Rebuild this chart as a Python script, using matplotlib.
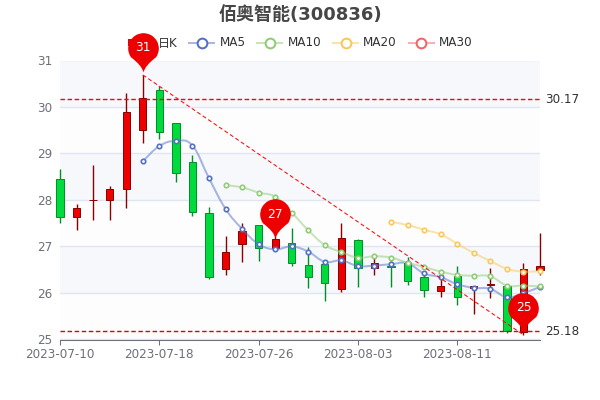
import numpy as np
import matplotlib
matplotlib.use('Agg')
import matplotlib.pyplot as plt
from matplotlib.lines import Line2D
from matplotlib.patches import Patch, PathPatch
from matplotlib.path import Path

plt.rcParams['font.family'] = ['DejaVu Sans', 'Noto Sans CJK SC']

dates = ['2023-07-10', '2023-07-11', '2023-07-12', '2023-07-13', '2023-07-14',
         '2023-07-17', '2023-07-18', '2023-07-19', '2023-07-20', '2023-07-21',
         '2023-07-24', '2023-07-25', '2023-07-26', '2023-07-27', '2023-07-28',
         '2023-07-31', '2023-08-01', '2023-08-02', '2023-08-03', '2023-08-04',
         '2023-08-07', '2023-08-08', '2023-08-09', '2023-08-10', '2023-08-11',
         '2023-08-14', '2023-08-15', '2023-08-16', '2023-08-17', '2023-08-18']

open_p = [28.45, 27.64, 27.99, 28.00, 28.24, 29.50, 30.37, 29.65, 28.81, 27.73,
          26.51, 27.05, 27.46, 26.96, 27.07, 26.61, 26.62, 26.09, 27.14, 26.53,
          26.59, 26.64, 26.34, 26.05, 26.37, 26.11, 26.17, 26.16, 25.17, 26.50]
close_p = [27.63, 27.83, 28.00, 28.24, 29.89, 30.19, 29.46, 28.57, 27.75, 26.35,
           26.89, 27.34, 26.96, 27.16, 26.64, 26.35, 26.22, 27.18, 26.54, 26.64,
           26.56, 26.26, 26.06, 26.16, 25.91, 26.14, 26.19, 25.18, 26.51, 26.58]
low_p = [27.50, 27.35, 27.57, 27.58, 27.82, 29.22, 29.31, 28.39, 27.66, 26.31,
         26.39, 26.67, 26.69, 26.96, 26.59, 26.10, 25.83, 26.03, 26.13, 26.38,
         26.13, 26.18, 25.91, 25.91, 25.75, 25.55, 25.89, 25.14, 25.10, 26.39]
high_p = [28.67, 27.91, 28.75, 28.30, 30.31, 30.69, 30.45, 29.65, 28.97, 27.86,
          27.23, 27.50, 27.46, 27.30, 27.39, 26.98, 26.70, 27.50, 27.16, 26.75,
          26.70, 26.77, 26.45, 26.30, 26.58, 26.16, 26.54, 26.16, 26.64, 27.28]

nan = float('nan')
ma5 = [nan] * 5 + [28.83, 29.16, 29.27, 29.17, 28.47, 27.81, 27.38, 27.05, 26.94,
                   27.00, 26.89, 26.67, 26.70, 26.58, 26.59, 26.62, 26.64, 26.42,
                   26.34, 26.19, 26.11, 26.09, 25.91, 26.00, 26.13]
ma10 = [nan] * 10 + [28.32, 28.27, 28.16, 28.07, 27.73, 27.35, 27.03, 26.88, 26.76,
                     26.79, 26.76, 26.65, 26.56, 26.46, 26.39, 26.37, 26.36, 26.16,
                     26.16, 26.14]
ma20 = [nan] * 20 + [27.53, 27.46, 27.36, 27.26, 27.06, 26.86, 26.69, 26.52, 26.46, 26.47]

pin_idx = [5, 13, 28]
pin_val = [30.76, 27.18, 25.17]
pin_txt = ['31', '27', '25']

line_hi = 30.17
line_lo = 25.18
trend_idx = [5, 28]
trend_val = [30.69, 25.10]

UP = '#ec0000'
UP_EDGE = '#8a0000'
DOWN = '#00da3c'
DOWN_EDGE = '#008f28'
AXIS_TXT = '#6e7079'


def smooth_path(ys):
    # 曲线只用于画线，不增加数据点
    pts = [(i, v) for i, v in enumerate(ys) if not np.isnan(v)]
    verts = [pts[0]]
    codes = [Path.MOVETO]
    for k in range(len(pts) - 1):
        p0 = pts[max(k - 1, 0)]
        p1 = pts[k]
        p2 = pts[k + 1]
        p3 = pts[min(k + 2, len(pts) - 1)]
        verts.append((p1[0] + (p2[0] - p0[0]) * 0.2, p1[1] + (p2[1] - p0[1]) * 0.2))
        verts.append((p2[0] - (p3[0] - p1[0]) * 0.2, p2[1] - (p3[1] - p1[1]) * 0.2))
        verts.append(p2)
        codes += [Path.CURVE4] * 3
    return Path(verts, codes)


def pin_marker(r=15.3, cy=24.0):
    # 笔尖在原点
    arc = Path.arc(-35, 215)
    body = arc.vertices[1:] * r + [0, cy]
    start = arc.vertices[0] * r + [0, cy]
    verts = [(0, 0), (1.5, 7), start]
    codes = [Path.MOVETO, Path.CURVE3, Path.CURVE3]
    verts += [tuple(v) for v in body]
    codes += list(arc.codes[1:])
    verts += [(-1.5, 7), (0, 0), (0, 0)]
    codes += [Path.CURVE3, Path.CURVE3, Path.CLOSEPOLY]
    return Path(verts, codes)


fig = plt.figure(figsize=(6, 4), dpi=100)
ax = fig.add_axes([60 / 600, 60.5 / 400, 480 / 600, 279 / 400])
ax.set_xlim(0, 29)
ax.set_ylim(25, 31)

# 背景条纹
for lo in range(25, 31):
    ax.axhspan(lo, lo + 1, color='#f6f8fc' if lo % 2 == 0 else '#fdfdfd', lw=0, zorder=0)
ax.set_yticks(range(25, 32))
ax.grid(axis='y', color='#e0e6f1', lw=1, zorder=1)
ax.set_axisbelow(True)

x = np.arange(len(dates))
for i in x:
    up = close_p[i] >= open_p[i]
    edge = UP_EDGE if up else DOWN_EDGE
    face = UP if up else DOWN
    ax.vlines(i, low_p[i], high_p[i], color=edge, lw=1, zorder=2, clip_on=False)
    ax.bar(i, abs(close_p[i] - open_p[i]), 0.44, bottom=min(open_p[i], close_p[i]),
           color=face, edgecolor=edge, lw=0.7, zorder=3, clip_on=False)

series = [('MA5', ma5, '#5470c6'), ('MA10', ma10, '#91cc75'), ('MA20', ma20, '#fac858')]
for name, vals, col in series:
    ax.add_patch(PathPatch(smooth_path(vals), fc='none', ec=col, lw=1.45, alpha=0.5,
                           zorder=4, clip_on=False))
    ax.plot(x, vals, ls='none', marker='o', ms=3.2, mfc='white', mec=col, mew=1.2,
            zorder=5, clip_on=False)

ax.axhline(line_hi, color='#ff0000', lw=1.0, ls=(0, (3.2, 1.9)), zorder=6)
ax.axhline(line_lo, color='#e00000', lw=1.0, ls=(0, (3.2, 1.9)), zorder=6)
ax.plot(trend_idx, trend_val, color='#ff0000', lw=0.72, ls=(0, (4, 2.6)), zorder=6, clip_on=False)
for v in (line_hi, line_lo):
    ax.annotate('%.2f' % v, xy=(29, v), xytext=(5, 0), textcoords='offset pixels',
                va='center', ha='left', fontsize=8.64, color='#333333', annotation_clip=False)

pin = pin_marker()
pin_ms = np.abs(pin.vertices).max() * 2 * 0.72
ax.plot(pin_idx, pin_val, ls='none', marker=pin, ms=pin_ms, mfc=UP, mec=UP, mew=0,
        zorder=10, clip_on=False)
for i, v, t in zip(pin_idx, pin_val, pin_txt):
    ax.annotate(t, xy=(i, v), xytext=(0, 24), textcoords='offset pixels', ha='center',
                va='center', fontsize=8.8, color='white', zorder=11, annotation_clip=False)

ax.set_xticks(x[::6])
ax.set_xticklabels(dates[::6])
ax.tick_params(axis='x', length=3.6, width=0.75, color=AXIS_TXT, labelcolor=AXIS_TXT,
               labelsize=8.64, pad=2.3)
ax.tick_params(axis='y', length=0, labelcolor=AXIS_TXT, labelsize=8.64, pad=5.5)
for side in ('top', 'left', 'right'):
    ax.spines[side].set_visible(False)
ax.spines['bottom'].set_color(AXIS_TXT)
ax.spines['bottom'].set_linewidth(0.75)

handles = [Patch(fc=UP, ec=UP, lw=0, label='日K')]
for name, col in [('MA5', '#5470c6'), ('MA10', '#91cc75'), ('MA20', '#fac858'), ('MA30', '#ee6666')]:
    handles.append(Line2D([], [], color=matplotlib.colors.to_rgba(col, 0.5), lw=1.45, marker='o', ms=7,
                          mfc='white', mec=col, mew=1.45, label=name))
leg = ax.legend(handles=handles, ncol=5, loc='center', bbox_to_anchor=(0.5, 1 - 43 / 400),
                bbox_transform=fig.transFigure, frameon=False, fontsize=8.64, borderpad=0,
                handlelength=2.08, handleheight=0.5, handletextpad=0.42, columnspacing=1.0,
                labelcolor='#333333')
leg.set_zorder(4)

fig.text(0.5, 1 - 15 / 400, '佰奥智能(300836)', ha='center', va='center', fontsize=13,
         fontweight='bold', color='#464646')

fig.savefig('out.png', dpi=100)
